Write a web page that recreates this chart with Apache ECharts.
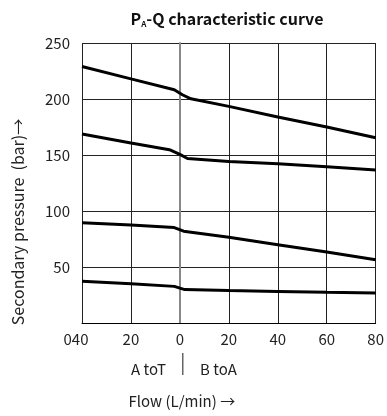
<!DOCTYPE html>
<html>
<head>
<meta charset="utf-8">
<script src="https://cdn.jsdelivr.net/npm/echarts@6/dist/echarts.min.js"></script>
<style>
  html, body { margin: 0; padding: 0; background: #fff; }
  #chart { width: 387px; height: 416px; }
</style>
</head>
<body>
<div id="chart"></div>
<script>
// flow (L/min), negative side = A to T, positive side = B to A
const curve1Flow = [-40, -20, -2.3, 1, 4.5, 20, 40, 60, 80];
const curve1Pres = [229, 218, 208.3, 203.8, 200.2, 193.4, 183.9, 175, 165.4];

const curve2Flow = [-40, -20, -4.3, 0, 3.1, 20, 40, 60, 80];
const curve2Pres = [168.8, 160.7, 154.7, 150.5, 146.9, 144.3, 142.2, 139.6, 136.6];

const curve3Flow = [-40, -20, -2.3, 1.5, 20, 40, 60, 80];
const curve3Pres = [89.6, 87.5, 85.2, 82, 76.5, 69.9, 63.4, 56.5];

const curve4Flow = [-40, -20, -2.3, 2, 20, 40, 60, 80];
const curve4Pres = [37.2, 35.1, 32.7, 29.8, 29.0, 28.2, 27.4, 26.7];

const xTickLabels = { '-40': '040', '-20': '20', '0': '0', '20': '20', '40': '40', '60': '60', '80': '80' };

const FONT = 'Noto Sans CJK SC';

const chart = echarts.init(document.getElementById('chart'), null, { renderer: 'canvas' });

const zip = (xs, ys) => xs.map((x, i) => [x, ys[i]]);

const lineSeries = (xs, ys) => ({
  type: 'line',
  data: zip(xs, ys),
  symbol: 'none',
  smooth: false,
  lineStyle: { color: '#000', width: 3 },
  silent: true,
  z: 5,
});

const option = {
  animation: false,
  backgroundColor: '#fff',
  title: {
    text: '{b|P}{s|A}{b|-Q characteristic curve}',
    left: 222,
    textAlign: 'center',
    top: 5,
    textStyle: {
      rich: {
        b: { fontFamily: FONT, fontSize: 16, fontWeight: 'bold', color: '#111' },
        s: { fontFamily: FONT, fontSize: 8, fontWeight: 'bold', color: '#111', padding: [10, 0, 0, 0] },
      },
    },
  },
  grid: { left: 82, right: 10, top: 43, bottom: 93 },
  xAxis: {
    type: 'value',
    min: -40,
    max: 80,
    interval: 20,
    name: 'Flow (L/min) →',
    nameLocation: 'middle',
    nameGap: 71,
    nameTextStyle: {
      fontFamily: FONT, fontSize: 15, color: '#222',
      padding: [0, 94, 0, 0],
    },
    axisLine: { onZero: false, lineStyle: { color: '#000', width: 1 } },
    axisTick: { show: false },
    axisLabel: {
      fontFamily: FONT, fontSize: 15, color: '#222', margin: 9,
      formatter: v => (v === -40 ? '{l|040}' : (xTickLabels[String(v)] || '')),
      rich: {
        l: { fontFamily: FONT, fontSize: 15, color: '#222', padding: [0, 12, 0, 0] },
      },
    },
    splitLine: { show: true, lineStyle: { color: '#222', width: 1 } },
  },
  yAxis: {
    type: 'value',
    min: 0,
    max: 250,
    interval: 50,
    name: 'Secondary pressure  (bar)→',
    nameLocation: 'middle',
    nameGap: 56,
    nameTextStyle: {
      fontFamily: FONT, fontSize: 16, color: '#222',
      padding: [0, 78, 0, 0],
    },
    axisLine: { show: true, lineStyle: { color: '#888', width: 2 } },
    axisTick: { show: false },
    axisLabel: {
      fontFamily: FONT, fontSize: 15, color: '#222', margin: 12,
      formatter: v => (v === 0 ? '' : String(v)),
    },
    splitLine: { show: true, lineStyle: { color: '#222', width: 1 } },
  },
  graphic: [
    {
      type: 'text', left: 131, top: 362,
      style: { text: 'A toT', fontFamily: FONT, fontSize: 15, fill: '#222' },
    },
    {
      type: 'rect', left: 182, top: 353,
      shape: { width: 1.5, height: 22 },
      style: { fill: '#666' },
    },
    {
      type: 'text', left: 200, top: 362,
      style: { text: 'B toA', fontFamily: FONT, fontSize: 15, fill: '#222' },
    },
  ],
  series: [
    lineSeries(curve1Flow, curve1Pres),
    lineSeries(curve2Flow, curve2Pres),
    lineSeries(curve3Flow, curve3Pres),
    lineSeries(curve4Flow, curve4Pres),
  ],
};

chart.setOption(option);
</script>
</body>
</html>
